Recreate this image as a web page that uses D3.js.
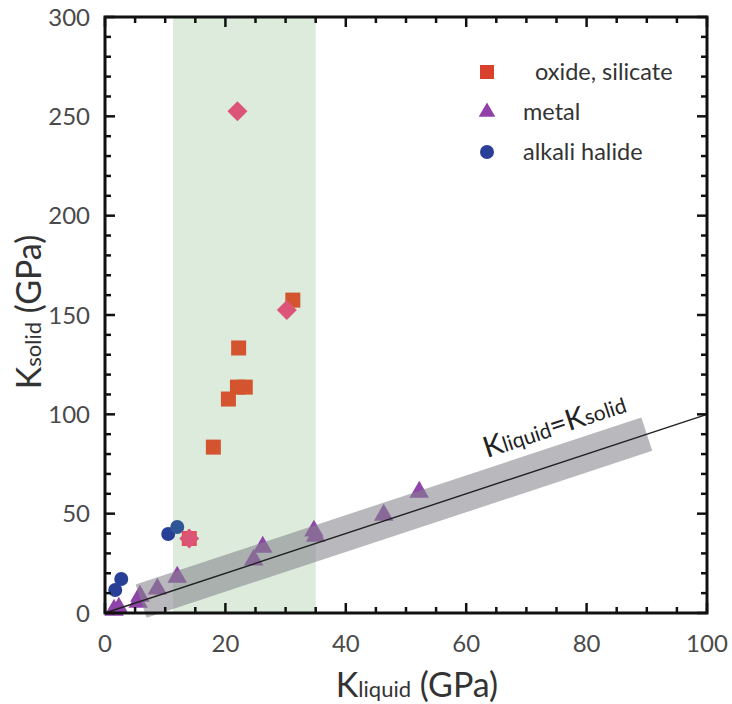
<!DOCTYPE html>
<html><head><meta charset="utf-8">
<script src="https://cdn.jsdelivr.net/npm/d3@7"></script>
<style>body{margin:0;background:#fff}svg{display:block}text{font-family:Lato,"Open Sans",sans-serif}</style>
</head><body>
<svg id="c" width="732" height="704"></svg>
<script>
// data
const oxideX = [18, 20.5, 22, 23.3, 22.2, 31.2, 14];
const oxideY = [83.5, 107.7, 113.7, 113.7, 133.4, 157.5, 37.5];
const diamondX = [22, 30.2, 14];
const diamondY = [252.6, 152.5, 37.5];
const metalX = [1.5, 2.3, 5.5, 5.8, 8.7, 12, 24.7, 26.2, 34.7, 35, 46.3, 52.2];
const metalY = [1, 2, 5, 8, 11.6, 17.6, 26.2, 32.7, 40.8, 38.2, 48.8, 60.4];
const halideX = [10.5, 12, 1.7, 2.7];
const halideY = [39.8, 43.3, 11.6, 17.1];
const greenBand = [11.3, 35];
const grayBand = [6, 90];
const xTicks = [0, 20, 40, 60, 80, 100];
const yTicks = [0, 50, 100, 150, 200, 250, 300];
const legendLabels = ["  oxide, silicate", "metal", "alkali halide"];

const svg = d3.select("#c");
const L = 105, R = 707, T = 17, B = 613;
const x = d3.scaleLinear().domain([0, 100]).range([L, R]);
const y = d3.scaleLinear().domain([0, 300]).range([B, T]);

// green band
svg.append("rect").attr("x", x(greenBand[0])).attr("y", T)
  .attr("width", x(greenBand[1]) - x(greenBand[0])).attr("height", B - T)
  .attr("fill", "#dcebdb");

const g = svg.append("g");
// halides
halideX.forEach((v, i) => g.append("circle").attr("cx", x(v)).attr("cy", y(halideY[i])).attr("r", 7)
  .attr("fill", i === 1 ? "#2f5597" : "#283f98"));
// oxides squares
oxideX.forEach((v, i) => g.append("rect").attr("x", x(v) - 7.5).attr("y", y(oxideY[i]) - 7.5)
  .attr("width", 15).attr("height", 15).attr("fill", i === 6 ? "#e2505a" : "#d45430"));
// diamonds
diamondX.forEach((v, i) => g.append("path")
  .attr("d", d3.symbol().type(d3.symbolSquare).size(200)())
  .attr("transform", `translate(${x(v)},${y(diamondY[i])}) rotate(45)`)
  .attr("fill", "#dc5577"));
// metals
metalX.forEach((v, i) => g.append("path")
  .attr("d", d3.symbol().type(d3.symbolTriangle).size(165)())
  .attr("transform", `translate(${x(v)},${y(metalY[i]) - 1})`)
  .attr("fill", "#8e44a8"));

// gray band along y = x
const p0 = [x(grayBand[0]), y(grayBand[0])], p1 = [x(grayBand[1]), y(grayBand[1])];
const dx = p1[0] - p0[0], dy = p1[1] - p0[1], len = Math.hypot(dx, dy);
const nx = -dy / len * 17.5, ny = dx / len * 17.5;
svg.append("polygon")
  .attr("points", [[p0[0] + nx, p0[1] + ny], [p1[0] + nx, p1[1] + ny], [p1[0] - nx, p1[1] - ny], [p0[0] - nx, p0[1] - ny]].map(p => p.join(",")).join(" "))
  .attr("fill", "#85858d").attr("opacity", 0.58);

// y = x line
svg.append("line").attr("x1", x(0)).attr("y1", y(0)).attr("x2", x(100)).attr("y2", y(100))
  .attr("stroke", "#222").attr("stroke-width", 1.4);

// frame
svg.append("rect").attr("x", L).attr("y", T).attr("width", R - L).attr("height", B - T)
  .attr("fill", "none").attr("stroke", "#111").attr("stroke-width", 3);

// ticks inward
const tk = svg.append("g").attr("stroke", "#111").attr("stroke-width", 2.5);
d3.range(0, 101, 5).forEach(v => {
  const l = v % 20 === 0 ? 10 : 6;
  tk.append("line").attr("x1", x(v)).attr("x2", x(v)).attr("y1", B).attr("y2", B - l);
  tk.append("line").attr("x1", x(v)).attr("x2", x(v)).attr("y1", T).attr("y2", T + l);
});
d3.range(0, 301, 10).forEach(v => {
  const l = v % 50 === 0 ? 10 : 6;
  tk.append("line").attr("y1", y(v)).attr("y2", y(v)).attr("x1", L).attr("x2", L + l);
  tk.append("line").attr("y1", y(v)).attr("y2", y(v)).attr("x1", R).attr("x2", R - l);
});

// tick labels
svg.append("g").selectAll("text").data(xTicks).join("text")
  .attr("x", d => x(d)).attr("y", 652).attr("text-anchor", "middle")
  .attr("font-size", 24).attr("fill", "#4a4a4a").text(d => d);
svg.append("g").selectAll("text").data(yTicks).join("text")
  .attr("x", 90).attr("y", d => y(d) + 8.5).attr("text-anchor", "end")
  .attr("font-size", 24).attr("fill", "#4a4a4a").text(d => d);

// axis titles
const xt = svg.append("text").attr("x", 417).attr("y", 697).attr("text-anchor", "middle").attr("fill", "#333");
xt.append("tspan").attr("font-size", 34).text("K");
xt.append("tspan").attr("font-size", 22).text("liquid");
xt.append("tspan").attr("font-size", 34).text(" (GPa)");
const yt = svg.append("text").attr("transform", "translate(41,312) rotate(-90)").attr("text-anchor", "middle").attr("fill", "#333");
yt.append("tspan").attr("font-size", 34).text("K");
yt.append("tspan").attr("font-size", 22).text("solid");
yt.append("tspan").attr("font-size", 34).text(" (GPa)");

// diagonal label
const ang = Math.atan2(dy, dx) * 180 / Math.PI;
const dl = svg.append("text").attr("transform", `translate(487,458) rotate(${ang})`).attr("fill", "#222");
dl.append("tspan").attr("font-size", 29).text("K");
dl.append("tspan").attr("font-size", 21).text("liquid");
dl.append("tspan").attr("font-size", 29).text("=K");
dl.append("tspan").attr("font-size", 21).text("solid");

// legend
const lg = svg.append("g");
const ly = [72, 112, 152];
lg.append("rect").attr("x", 480).attr("y", ly[0] - 7).attr("width", 14).attr("height", 14).attr("fill", "#d9402e");
lg.append("path").attr("d", d3.symbol().type(d3.symbolTriangle).size(120)()).attr("transform", `translate(487,${ly[1]})`).attr("fill", "#9040a8");
lg.append("circle").attr("cx", 487).attr("cy", ly[2]).attr("r", 7).attr("fill", "#2a3f98");
legendLabels.forEach((t, i) => lg.append("text").attr("x", 523).attr("y", ly[i] + 8)
  .attr("font-size", 23.5).attr("fill", "#333").attr("xml:space", "preserve").style("white-space", "pre").text(t));
</script>
</body></html>
